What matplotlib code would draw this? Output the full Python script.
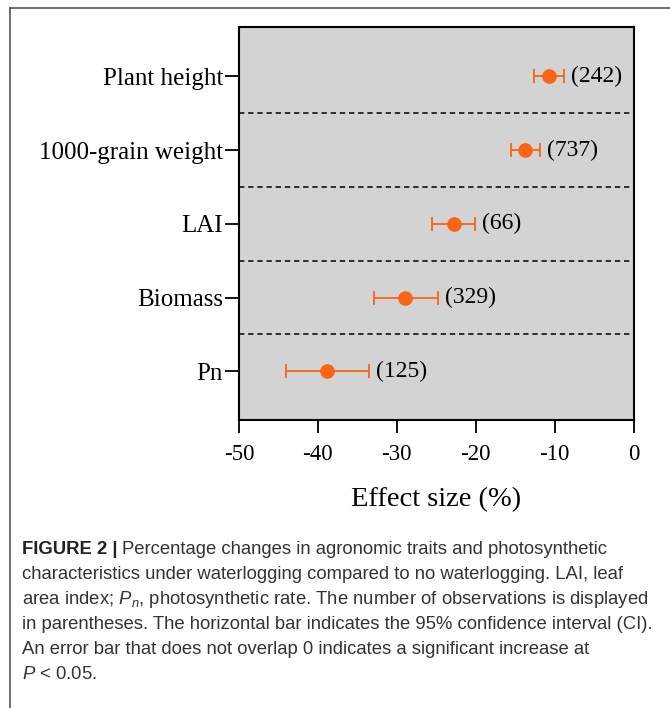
import matplotlib
matplotlib.use('Agg')
import matplotlib.pyplot as plt
from matplotlib import font_manager
from matplotlib.lines import Line2D

categories = ['Plant height', '1000-grain weight', 'LAI', 'Biomass', 'Pn']
effect = [-10.7, -13.7, -22.8, -28.9, -38.9]
ci_low = [-12.6, -15.5, -25.6, -32.9, -44.1]
ci_high = [-8.8, -11.9, -20.1, -24.8, -33.5]
n_obs = [242, 737, 66, 329, 125]
xticks = [-50, -40, -30, -20, -10, 0]
xlabel = 'Effect size (%)'

cap_font = 'Liberation Sans'

plt.rcParams['mathtext.fontset'] = 'custom'
plt.rcParams['mathtext.rm'] = cap_font
plt.rcParams['mathtext.it'] = cap_font + ':italic'
plt.rcParams['mathtext.bf'] = cap_font + ':bold'

W, H = 670, 708
fig = plt.figure(figsize=(W / 100, H / 100), dpi=100)
ax = fig.add_axes([239 / W, 1 - 420 / H, (633.5 - 239) / W, (420 - 27) / H])
ax.set_facecolor('#d3d3d3')

orange = '#fa6414'
n = len(categories)
ypos = list(range(n - 1, -1, -1))
xerr = [[e - l for e, l in zip(effect, ci_low)], [h - e for e, h in zip(effect, ci_high)]]
ax.errorbar(effect, ypos, xerr=xerr, fmt='o', color=orange, ecolor=orange,
            markersize=9.5, elinewidth=1.3, capsize=4.8, capthick=1.3, zorder=3)

for y, h, nn in zip(ypos, ci_high, n_obs):
    ax.annotate(f'({nn})', xy=(h, y), xytext=(5, 0), textcoords='offset points',
                ha='left', va='center', fontsize=17, family='Liberation Serif')

for k in range(n - 1):
    ax.axhline(k + 0.5, color='black', linestyle=(0, (3.5, 2.5)), linewidth=1.1, zorder=2)

ax.set_xlim(-50, 0)
ax.set_ylim(-0.66, n - 1 + 0.67)
ax.set_xticks(xticks)
ax.set_xticklabels([str(t) for t in xticks], family='Liberation Serif', fontsize=16.5)
ax.set_yticks(ypos)
ax.set_yticklabels(categories, family='Liberation Serif', fontsize=18)
ax.tick_params(axis='x', length=9, width=1.3, pad=8)
ax.tick_params(axis='y', length=10, width=1.3, pad=1.5)
ax.set_xlabel(xlabel, family='Liberation Serif', fontsize=20.5, labelpad=16)
for s in ax.spines.values():
    s.set_linewidth(1.5)

# outer frame
fig.add_artist(Line2D([10 / W, 10 / W], [0, 1 - 8 / H], color='#555555', linewidth=1.2, transform=fig.transFigure))
fig.add_artist(Line2D([10 / W, 1], [1 - 8 / H, 1 - 8 / H], color='#555555', linewidth=1.2, transform=fig.transFigure))

# caption
cap_size = 13.3
cap_color = '#333333'
x0 = 22 / W
lines_y = [554, 579, 604, 629, 654, 679]
renderer = fig.canvas.get_renderer()
t1 = fig.text(x0, 1 - lines_y[0] / H, 'FIGURE 2 |', fontsize=cap_size, family=cap_font,
              weight='bold', va='baseline', color='#222222')
bb = t1.get_window_extent(renderer)
fig.text(bb.x1 / W + 4 / W, 1 - lines_y[0] / H,
         'Percentage changes in agronomic traits and photosynthetic',
         fontsize=cap_size, family=cap_font, va='baseline', color=cap_color)
rest = [
    'characteristics under waterlogging compared to no waterlogging. LAI, leaf',
    'area index; $P_n$, photosynthetic rate. The number of observations is displayed',
    'in parentheses. The horizontal bar indicates the 95% confidence interval (CI).',
    'An error bar that does not overlap 0 indicates a significant increase at',
    '$P$ < 0.05.',
]
for y, txt in zip(lines_y[1:], rest):
    fig.text(x0, 1 - y / H, txt, fontsize=cap_size, family=cap_font, va='baseline', color=cap_color)

fig.savefig('out.png', dpi=100)
